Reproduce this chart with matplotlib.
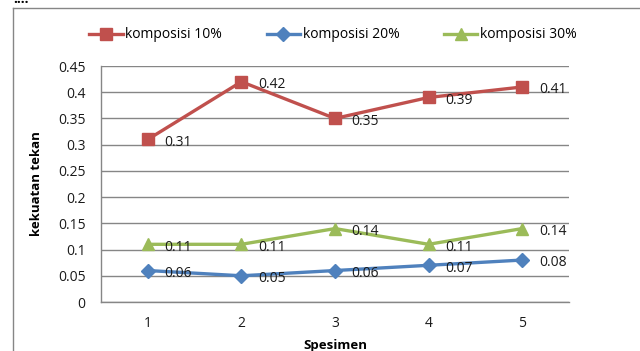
import matplotlib
matplotlib.use("Agg")
import matplotlib.pyplot as plt
from matplotlib.lines import Line2D

plt.rcParams['font.family'] = ['Open Sans', 'DejaVu Sans']

spesimen = [1, 2, 3, 4, 5]
komp10 = [0.31, 0.42, 0.35, 0.39, 0.41]
komp20 = [0.06, 0.05, 0.06, 0.07, 0.08]
komp30 = [0.11, 0.11, 0.14, 0.11, 0.14]
yticks = [0, 0.05, 0.1, 0.15, 0.2, 0.25, 0.3, 0.35, 0.4, 0.45]
ytick_labels = ['0', '0.05', '0.1', '0.15', '0.2', '0.25', '0.3', '0.35', '0.4', '0.45']

fig = plt.figure(figsize=(6.4, 3.51), dpi=100)
ax = fig.add_axes([101/640, 1-302/351, 468/640, 236/351])

series = [
    ('komposisi 10%', komp10, '#C0504D', 's', 8.5),
    ('komposisi 20%', komp20, '#4F81BD', 'D', 7),
    ('komposisi 30%', komp30, '#9BBB59', '^', 9),
]
for name, vals, col, mk, ms in series:
    ax.plot(spesimen, vals, color=col, lw=2.4, marker=mk, ms=ms, label=name, zorder=3)
for name, vals, col, mk, ms in series:
    for x, v in zip(spesimen, vals):
        ax.annotate(f'{v:.2f}', (x, v), xytext=(12, -2), textcoords='offset points',
                    ha='left', va='center', fontsize=10, color='#1a1a1a', zorder=4)

ax.set_xlim(0.5, 5.5)
ax.set_ylim(0, 0.45)
ax.set_yticks(yticks)
ax.set_yticklabels(ytick_labels)
ax.set_xticks(spesimen)
ax.grid(axis='y', color='#868686', lw=1.0)
ax.set_axisbelow(True)
for s in ['top', 'right']:
    ax.spines[s].set_visible(False)
for s in ['left', 'bottom']:
    ax.spines[s].set_color('#868686')
    ax.spines[s].set_linewidth(1.0)
ax.tick_params(axis='y', length=0, pad=11, labelsize=10, colors='#1a1a1a')
ax.tick_params(axis='x', length=0, pad=10, labelsize=10, colors='#1a1a1a')

ax.set_ylabel('kekuatan tekan', fontsize=9.5, fontweight='bold')
ax.yaxis.set_label_coords(-0.125, 0.5)
fig.text(335/640, 1-346/351, 'Spesimen', ha='center', va='center', fontsize=9.5, fontweight='bold')

fig.legend(loc='center', bbox_to_anchor=(333/640, 1-35/351), ncol=3, frameon=False,
           fontsize=10, handlelength=2.4, handletextpad=0.2, columnspacing=3.2)

# outer chart frame (left and top edges)
fig.add_artist(Line2D([13/640, 13/640], [0, 1-8/351], transform=fig.transFigure, color='#868686', lw=1))
fig.add_artist(Line2D([13/640, 1], [1-8/351, 1-8/351], transform=fig.transFigure, color='#868686', lw=1))
fig.text(13/640, 1-3/351, '....', ha='left', va='baseline', fontsize=10, fontweight='bold')

fig.savefig('out.png', dpi=100)
